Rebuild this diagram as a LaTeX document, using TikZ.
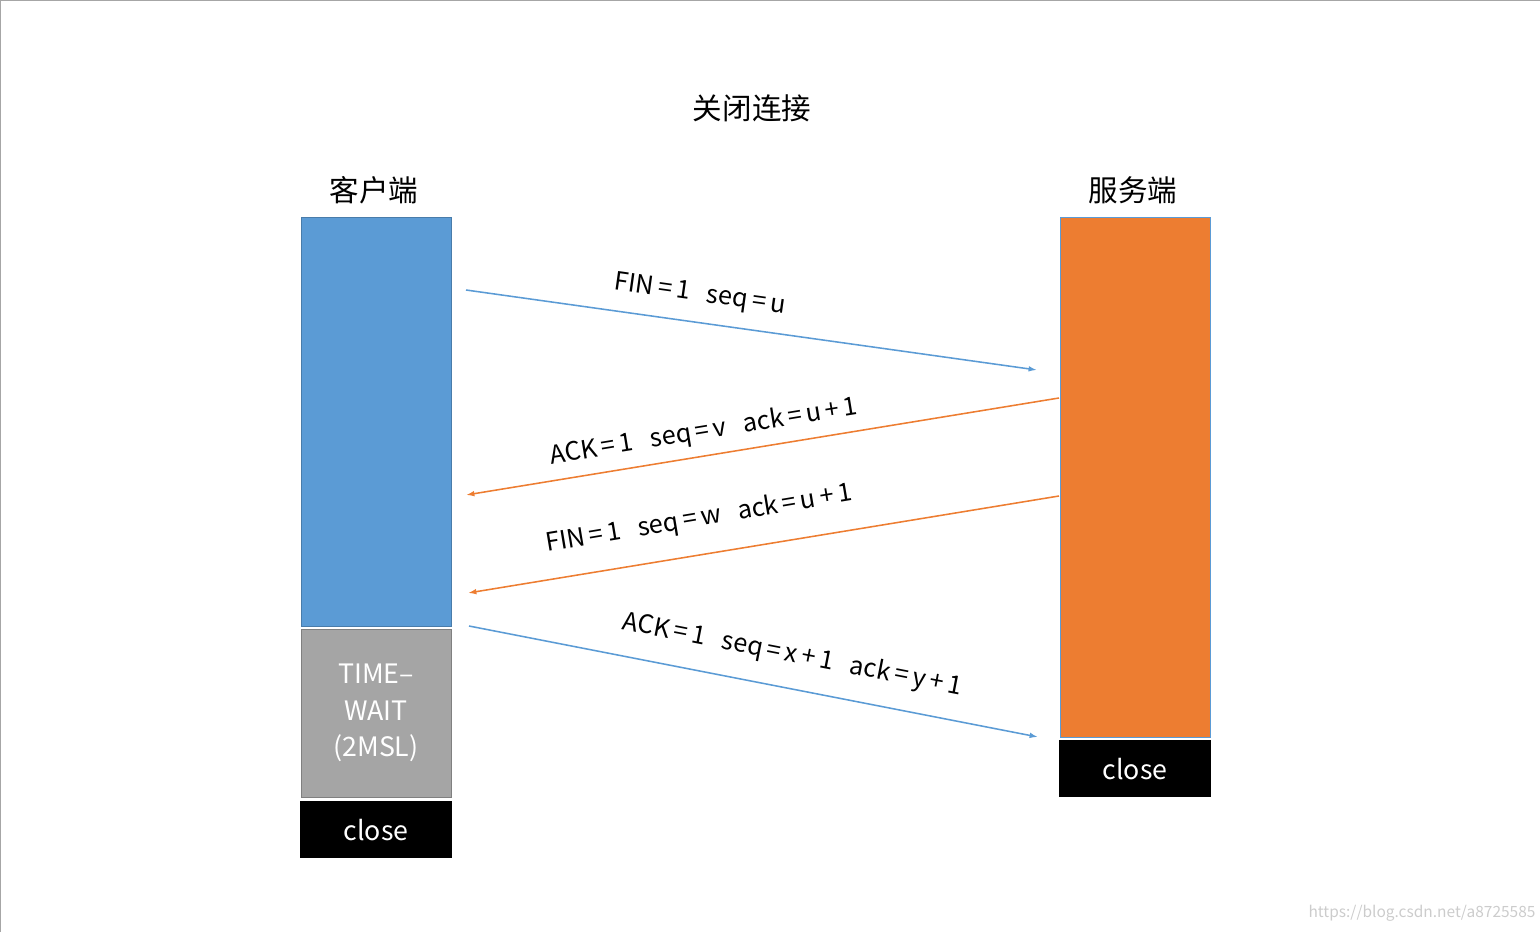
\documentclass[tikz,border=0pt]{standalone}
\usepackage{fontspec}
\setmainfont{Noto Sans CJK SC}
\usetikzlibrary{arrows.meta}
\definecolor{cliblue}{RGB}{91,155,213}
\definecolor{srvorange}{RGB}{237,125,49}
\definecolor{waitgray}{RGB}{165,165,165}
\begin{document}
\begin{tikzpicture}[x=0.025cm,y=-0.025cm,>={Latex[length=6pt,width=4pt]},
    font=\fontsize{17}{20}\selectfont]
    \tikzset{
      box/.style={minimum width=3.75cm,inner sep=0pt,outer sep=0pt},
      msg/.style={->,line width=1.1pt},
      lbl/.style={font=\fontsize{18}{22}\selectfont,inner sep=0pt},
    }
    \useasboundingbox (0,0) rectangle (1540,932);
    \draw[gray!70] (0,932) -- (0,0) -- (1540,0);

    \node (title) at (752,108) {\fontsize{21}{25}\selectfont 关闭连接};
    \node (cli) at (374,190) {\fontsize{21}{25}\selectfont 客户端};
    \node (srv) at (1133,190) {\fontsize{21}{25}\selectfont 服务端};

    \node[box,fill=cliblue,draw=cliblue!80!black,minimum height=10.225cm,anchor=north] (A) at (376,217) {};
    \node[box,fill=waitgray,draw=gray,minimum height=4.2cm,anchor=north,text=white,align=center,
          font=\fontsize{19}{22}\selectfont] (W) at (376,629)
         {TIME--\\[4pt]WAIT\\[4pt](2MSL)};
    \node[box,fill=black,text=white,minimum width=3.8cm,minimum height=1.43cm,anchor=north,
          font=\fontsize{19}{22}\selectfont] (C1) at (376,801) {close};
    \node[box,fill=srvorange,draw=cliblue,minimum height=13cm,anchor=north] (B) at (1135,217) {};
    \node[box,fill=black,text=white,minimum width=3.8cm,minimum height=1.43cm,anchor=north,
          font=\fontsize{19}{22}\selectfont] (C2) at (1135,740) {close};

    \coordinate (a1) at (466,290); \coordinate (b1) at (1037,370);
    \coordinate (b2) at (1059,398); \coordinate (a2) at (466,495);
    \coordinate (b3) at (1059,496); \coordinate (a3) at (468,593);
    \coordinate (a4) at (469,626); \coordinate (b4) at (1038,737);

    \draw[msg,cliblue] (a1) -- (b1);
    \draw[msg,srvorange] (b2) -- (a2);
    \draw[msg,srvorange] (b3) -- (a3);
    \draw[msg,cliblue] (a4) -- (b4);

    \node[lbl,rotate=-8] at (700,295) {FIN\,=\,1\ \ \ seq\,=\,u};
    \node[lbl,rotate=9.3] at (704,432) {ACK\,=\,1\ \ \ seq\,=\,v\ \ \ ack\,=\,u\,+\,1};
    \node[lbl,rotate=9.5] at (699,519) {FIN\,=\,1\ \ \ seq\,=\,w\ \ \ ack\,=\,u\,+\,1};
    \node[lbl,rotate=-11] at (792,655) {ACK\,=\,1\ \ \ seq\,=\,x\,+\,1\ \ \ ack\,=\,y\,+\,1};

    \node[gray!40,font=\fontsize{11}{13}\selectfont] (wm) at (1422,913) {https://blog.csdn.net/a8725585};
\end{tikzpicture}
\end{document}
